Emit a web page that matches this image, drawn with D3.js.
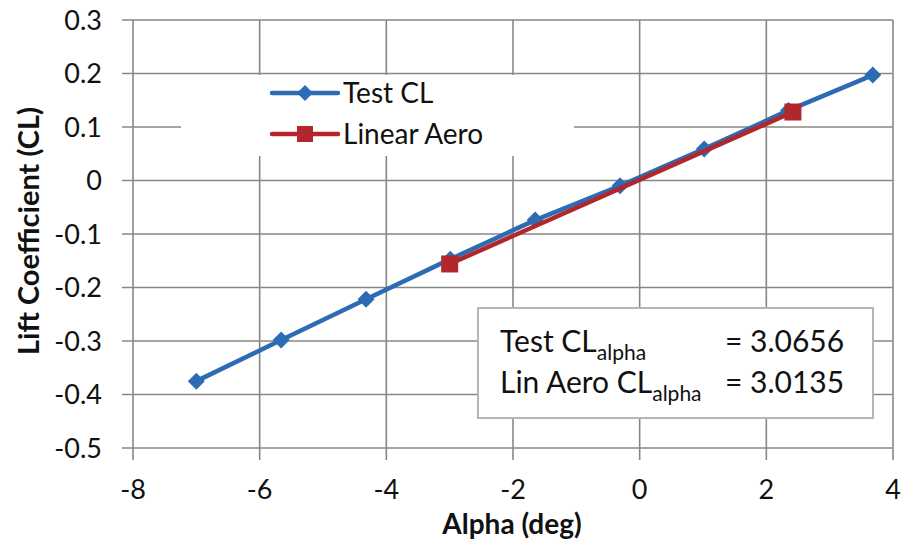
<!DOCTYPE html>
<html><head><meta charset="utf-8">
<script src="https://cdn.jsdelivr.net/npm/d3@7"></script>
<style>
html,body{margin:0;padding:0;background:#fff;}
svg{display:block;font-family:Lato,"Open Sans",sans-serif;}
</style></head>
<body><svg id="c" width="902" height="542"></svg>
<script>
// Data
const testAlpha = [-7.0, -5.66, -4.32, -2.99, -1.65, -0.31, 1.02, 2.35, 3.68];
const testCL    = [-0.375, -0.298, -0.222, -0.147, -0.074, -0.010, 0.059, 0.131, 0.197];
const linAlpha  = [-3.0, 2.42];
const linCL     = [-0.156, 0.128];
const xTicks = [-8, -6, -4, -2, 0, 2, 4];
const yTicks = [-0.5, -0.4, -0.3, -0.2, -0.1, 0, 0.1, 0.2, 0.3];
const seriesNames = ["Test CL", "Linear Aero"];
const statLabels = ["Test CL", "Lin Aero CL"];
const statValues = ["3.0656", "3.0135"];

const svg = d3.select("#c");
const L = 133, R = 893, T = 20, B = 448;
const x = d3.scaleLinear().domain([-8, 4]).range([L, R]);
const y = d3.scaleLinear().domain([-0.5, 0.3]).range([B, T]);
const gridCol = "#878787";
const blue = "#2d6cb4", red = "#b1272b";
const hy = s => s.replace(/\u2212/g, "-");

// grid
const g = svg.append("g");
g.selectAll(".vg").data(xTicks).join("line")
  .attr("x1", d => x(d)).attr("x2", d => x(d)).attr("y1", T).attr("y2", B + 12)
  .attr("stroke", gridCol).attr("stroke-width", 1.6);
g.selectAll(".hg").data(yTicks).join("line")
  .attr("x1", L - 11).attr("x2", R).attr("y1", d => y(d)).attr("y2", d => y(d))
  .attr("stroke", gridCol).attr("stroke-width", 1.6);

// tick labels
const fmtY = d => d === 0 ? "0" : hy(d3.format(".1f")(d));
g.selectAll(".yl").data(yTicks).join("text")
  .attr("x", 102).attr("y", d => y(d)).attr("dy", "0.36em")
  .attr("text-anchor", "end").attr("font-size", 27).attr("fill", "#111")
  .text(fmtY);
g.selectAll(".xl").data(xTicks).join("text")
  .attr("x", d => x(d)).attr("y", 499)
  .attr("text-anchor", "middle").attr("font-size", 27).attr("fill", "#111")
  .text(d => hy(d3.format("d")(d)));

// axis titles
svg.append("text").attr("x", 512).attr("y", 534)
  .attr("text-anchor", "middle").attr("font-size", 28).attr("font-weight", "bold").attr("fill", "#111")
  .text("Alpha (deg)");
svg.append("text").attr("transform", "translate(39,231) rotate(-90)")
  .attr("text-anchor", "middle").attr("font-size", 29).attr("font-weight", "bold").attr("fill", "#111")
  .text("Lift Coefficient (CL)");

// legend background (covers grid)
svg.append("rect").attr("x", 181).attr("y", 75).attr("width", 393).attr("height", 81).attr("fill", "#fff");

// series
const line = d3.line().x(d => x(d[0])).y(d => y(d[1]));
const testData = testAlpha.map((a, i) => [a, testCL[i]]);
const linData = linAlpha.map((a, i) => [a, linCL[i]]);
svg.append("path").datum(testData).attr("d", line).attr("fill", "none")
  .attr("stroke", blue).attr("stroke-width", 4.5).attr("stroke-linejoin", "round");
const diamond = (cx, cy, r) => `M${cx},${cy - r}L${cx + r},${cy}L${cx},${cy + r}L${cx - r},${cy}Z`;
svg.selectAll(".dm").data(testData).join("path")
  .attr("d", d => diamond(x(d[0]), y(d[1]), 8.5)).attr("fill", blue);
svg.append("path").datum(linData).attr("d", line).attr("fill", "none")
  .attr("stroke", red).attr("stroke-width", 4.5);
svg.selectAll(".sq").data(linData).join("rect")
  .attr("x", d => x(d[0]) - 8.5).attr("y", d => y(d[1]) - 8.5)
  .attr("width", 17).attr("height", 17).attr("fill", red);

// legend items
const lg = svg.append("g");
const legY = [93, 134];
const legCol = [blue, red];
seriesNames.forEach((n, i) => {
  lg.append("line").attr("x1", 272).attr("x2", 338).attr("y1", legY[i]).attr("y2", legY[i])
    .attr("stroke", legCol[i]).attr("stroke-width", 4.5).attr("stroke-linecap", "round");
  if (i === 0) lg.append("path").attr("d", diamond(305, legY[i], 8)).attr("fill", blue);
  else lg.append("rect").attr("x", 297).attr("y", legY[i] - 8).attr("width", 16).attr("height", 16).attr("fill", red);
  lg.append("text").attr("x", 343).attr("y", legY[i]).attr("dy", "0.36em")
    .attr("font-size", 28).attr("fill", "#111").text(n);
});

// stats box
svg.append("rect").attr("x", 478).attr("y", 308).attr("width", 395).attr("height", 110)
  .attr("fill", "#fff").attr("stroke", "#b5b5b5").attr("stroke-width", 2);
const rowY = [352, 393];
statLabels.forEach((s, i) => {
  const t = svg.append("text").attr("x", 500).attr("y", rowY[i]).attr("font-size", 30).attr("fill", "#111");
  t.append("tspan").text(s);
  t.append("tspan").attr("font-size", 21).attr("dy", 8).text("alpha");
  svg.append("text").attr("x", 725).attr("y", rowY[i]).attr("font-size", 30).attr("fill", "#111")
    .text("= " + statValues[i]);
});
</script></body></html>
